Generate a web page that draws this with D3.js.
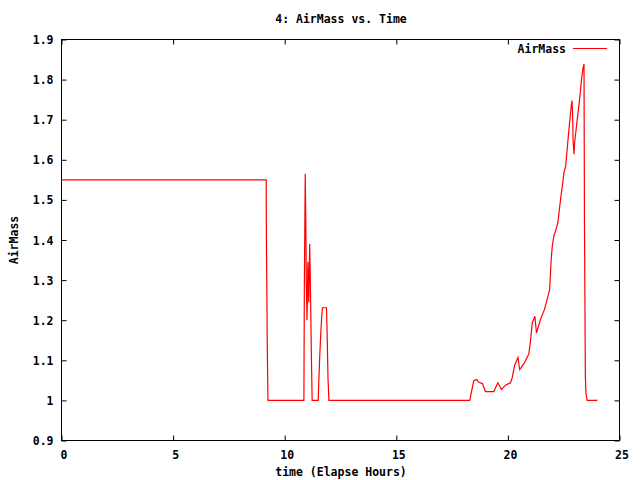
<!DOCTYPE html>
<html><head><meta charset="utf-8">
<script src="https://cdn.jsdelivr.net/npm/d3@7"></script>
<style>
html,body{margin:0;padding:0;background:#fff;}
text{font-family:"DejaVu Sans Mono","Liberation Mono",monospace;font-weight:bold;font-size:11.5px;fill:#000;}
</style></head>
<body>
<svg id="c" width="640" height="480"></svg>
<script>
const chartTitle = "4: AirMass vs. Time";
const xTitle = "time (Elapse Hours)";
const yTitle = "AirMass";
const seriesName = "AirMass";
const xTicks = [0, 5, 10, 15, 20, 25];
const yTicks = [0.9, 1.0, 1.1, 1.2, 1.3, 1.4, 1.5, 1.6, 1.7, 1.8, 1.9];
const times = [0, 9.17, 9.18, 9.22, 9.25, 10.86, 10.88, 10.92, 10.94, 10.97, 11.0, 11.04, 11.08, 11.12, 11.15, 11.2, 11.23,
  11.5, 11.52, 11.57, 11.62, 11.66, 11.69, 11.87, 11.9, 11.94, 11.98,
  18.29, 18.47, 18.6, 18.7, 18.86, 18.99, 19.37, 19.55, 19.71, 19.89, 20.12, 20.19, 20.3, 20.45, 20.53, 20.71, 20.94,
  21.02, 21.09, 21.21, 21.28, 21.46, 21.64, 21.76, 21.87, 21.89, 21.94, 21.99, 22.06, 22.18, 22.24, 22.29, 22.36, 22.44,
  22.51, 22.59, 22.63, 22.69, 22.75, 22.81, 22.84, 22.87, 22.9, 22.92, 22.96, 22.99, 23.04, 23.11, 23.18, 23.26, 23.3,
  23.36, 23.41, 23.43, 23.47, 23.5, 23.55, 23.98, 23.99];
const airMass = [1.55, 1.55, 1.41, 1.135, 1.0, 1.0, 1.28, 1.565, 1.475, 1.285, 1.2, 1.345, 1.245, 1.39, 1.29, 1.095, 1.0,
  1.0, 1.035, 1.11, 1.172, 1.21, 1.231, 1.231, 1.17, 1.056, 1.0,
  1.0, 1.049, 1.052, 1.045, 1.042, 1.022, 1.022, 1.044, 1.027, 1.038, 1.044, 1.056, 1.087, 1.107, 1.077, 1.091, 1.116,
  1.152, 1.193, 1.21, 1.168, 1.202, 1.227, 1.252, 1.277, 1.297, 1.352, 1.385, 1.41, 1.431, 1.443, 1.468, 1.502, 1.535,
  1.568, 1.585, 1.61, 1.648, 1.685, 1.718, 1.735, 1.748, 1.715, 1.648, 1.614, 1.643, 1.668, 1.702, 1.735, 1.777, 1.802,
  1.827, 1.839, 1.452, 1.06, 1.016, 1.0, 1.0, 1.002];

const svg = d3.select("#c");
const L = 61.5, R = 619.5, T = 39.5, B = 440.5;
const x = d3.scaleLinear().domain([0, 25]).range([L, R]);
const y = d3.scaleLinear().domain([0.9, 1.9]).range([B, T]);
const tickLen = 5;

const gx = svg.append("g").attr("transform", `translate(0,${B})`)
  .call(d3.axisBottom(x).tickValues(xTicks).tickSize(-tickLen).tickPadding(8).tickFormat(d3.format("d")));
gx.select(".domain").remove();
gx.selectAll("text").attr("dy", "0.9em").attr("dx", "2");
const gxt = svg.append("g").attr("transform", `translate(0,${T})`)
  .call(d3.axisTop(x).tickValues(xTicks).tickSize(-tickLen).tickFormat(""));
gxt.select(".domain").remove();

const gy = svg.append("g").attr("transform", `translate(${L},0)`)
  .call(d3.axisLeft(y).tickValues(yTicks).tickSize(-tickLen).tickPadding(8)
    .tickFormat(d => d === 1 ? "1" : d3.format(".1f")(d)));
gy.select(".domain").remove();
gy.selectAll("text").attr("dy", "0.35em");
const gyr = svg.append("g").attr("transform", `translate(${R},0)`)
  .call(d3.axisRight(y).tickValues(yTicks).tickSize(-tickLen).tickFormat(""));
gyr.select(".domain").remove();
svg.selectAll(".tick line").attr("stroke", "#000");
svg.selectAll("g").attr("font-family", null).attr("font-size", null);

svg.append("rect").attr("x", L).attr("y", T).attr("width", R - L).attr("height", B - T)
  .attr("fill", "none").attr("stroke", "#000").attr("stroke-width", 1);

const data = times.map((t, i) => [t, airMass[i]]);
svg.append("path").datum(data)
  .attr("fill", "none").attr("stroke", "#ff0000").attr("stroke-width", 1.2)
  .attr("d", d3.line().x(d => x(d[0])).y(d => y(d[1])));

svg.append("text").attr("x", 566).attr("y", 53).attr("text-anchor", "end").text(seriesName);
svg.append("line").attr("x1", 573).attr("x2", 607).attr("y1", 48.5).attr("y2", 48.5)
  .attr("stroke", "#ff0000").attr("stroke-width", 1);

svg.append("text").attr("x", 341).attr("y", 23).attr("text-anchor", "middle").text(chartTitle);
svg.append("text").attr("x", 341).attr("y", 476).attr("text-anchor", "middle").text(xTitle);
svg.append("text").attr("transform", "translate(18,240) rotate(-90)").attr("text-anchor", "middle").text(yTitle);
</script>
</body></html>
